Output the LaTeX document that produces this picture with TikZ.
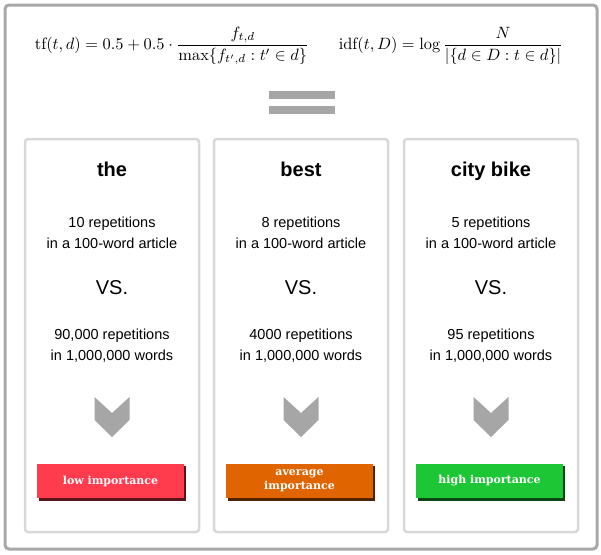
\documentclass[tikz,border=0pt]{standalone}
\usepackage{amsmath}
\usepackage{fontspec}
\setsansfont{Liberation Sans}
\newfontfamily\btnfont{DejaVu Serif}
\definecolor{bord}{HTML}{A8A8A8}
\definecolor{pbord}{HTML}{D8D8D8}
\definecolor{chev}{HTML}{A6A6A6}
\definecolor{cred}{HTML}{FF3B4E}
\definecolor{cora}{HTML}{E06400}
\definecolor{cgrn}{HTML}{1DC634}
\begin{document}
\begin{tikzpicture}[x=1pt,y=-1pt,
  panel/.style={draw=pbord,line width=2.5pt,rounded corners=3pt},
  ttl/.style={font=\sffamily\bfseries\fontsize{20}{22}\selectfont,anchor=base},
  body/.style={font=\sffamily\fontsize{14.5}{21}\selectfont,align=center},
  vs/.style={font=\sffamily\fontsize{20}{22}\selectfont},
  btn/.style={text=white,font=\btnfont\bfseries\fontsize{11}{14}\selectfont,align=center,inner sep=0pt}]
\useasboundingbox (0,0) rectangle (601,554);
\draw[draw=bord,line width=3pt,rounded corners=4pt,fill=white] (5,5) rectangle (597,549);
\node[scale=1.64] (tf) at (172,46) {$\mathrm{tf}(t,d)=0.5+0.5\cdot\dfrac{f_{t,d}}{\max\{f_{t',d}:t'\in d\}}$};
\node[scale=1.64] (idf) at (451,46) {$\mathrm{idf}(t,D)=\log\dfrac{N}{|\{d\in D:t\in d\}|}$};
\fill[chev] (269,91) rectangle (335,99);
\fill[chev] (269,106) rectangle (335,114);
\foreach \x/\t/\a/\c/\col/\lab [count=\i] in
 {25/the/10/{90,000}/cred/low importance,
  214/best/8/4000/cora/{average\\importance},
  404/city bike/5/95/cgrn/high importance}{
  \pgfmathsetmacro\cx{\x+87}
  \draw[panel] (\x,139) rectangle (\x+174,532);
  \node[ttl] (t\i) at (\cx,176) {\t};
  \node[body] (r\i) at (\cx,233) {\a\ repetitions\\in a 100-word article};
  \node[vs] (v\i) at (\cx,288) {VS.};
  \node[body] (w\i) at (\cx,346) {\c\ repetitions\\in 1,000,000 words};
  \fill[chev] (\cx-17.5,397) -- (\cx,413) -- (\cx+17.5,397) -- (\cx+17.5,420) -- (\cx,437) -- (\cx-17.5,420) -- cycle;
  \fill[black!65!\col] (\cx-73,466) rectangle (\cx+74,501);
  \node[btn,fill=\col,minimum width=147pt,minimum height=34pt] (b\i) at (\cx-1.5,481) {\lab};
}
\end{tikzpicture}
\end{document}
